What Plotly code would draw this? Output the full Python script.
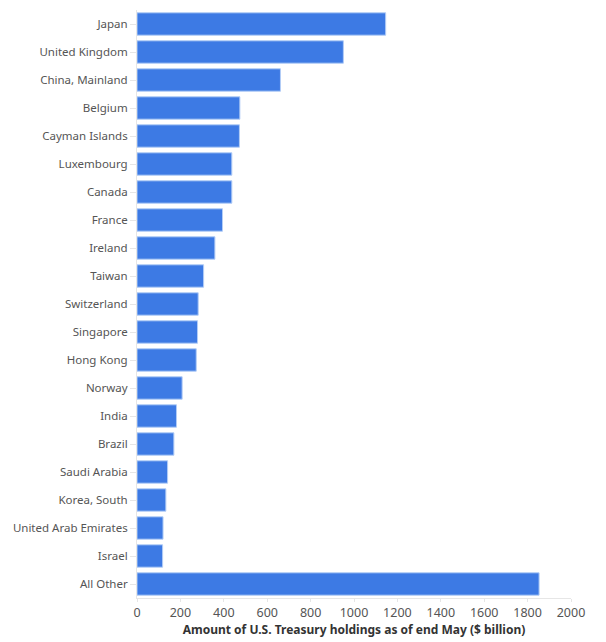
import plotly.graph_objects as go

countries = ["Japan", "United Kingdom", "China, Mainland", "Belgium", "Cayman Islands",
             "Luxembourg", "Canada", "France", "Ireland", "Taiwan", "Switzerland",
             "Singapore", "Hong Kong", "Norway", "India", "Brazil", "Saudi Arabia",
             "Korea, South", "United Arab Emirates", "Israel", "All Other"]
holdings = [1146, 951, 661, 474, 472, 437, 437, 394, 359, 307, 282,
            279, 273, 208, 182, 170, 141, 133, 120, 118, 1853]
x_ticks = list(range(0, 2001, 200))

fig = go.Figure(go.Bar(
    x=holdings,
    y=countries,
    orientation="h",
    marker=dict(color="#3d7ae4", line=dict(color="#b3cdf6", width=1)),
))

# page body adds an 8px offset, margins compensate for it
fig.update_layout(
    width=606, height=642,
    margin=dict(l=129, r=43, t=2, b=52, autoexpand=False),
    plot_bgcolor="white",
    paper_bgcolor="white",
    font=dict(family="Noto Sans", size=12, color="#555555"),
    bargap=0.2,
    showlegend=False,
)
fig.update_xaxes(
    range=[0, 2000], tickvals=x_ticks, showgrid=False, zeroline=False,
    showline=True, linecolor="#e6e6e6", ticks="outside", ticklen=3, tickcolor="#e6e6e6",
    tickfont=dict(size=12.5, color="#555555"),
    title=dict(text="<b>Amount of U.S. Treasury holdings as of end May ($ billion)</b>",
               font=dict(size=12, color="#333333"), standoff=5),
)
fig.update_yaxes(
    autorange="reversed", showgrid=False, showline=True, linecolor="#e6e6e6",
    ticks="outside", ticklen=6, tickcolor="#e6e6e6",
    tickfont=dict(size=11.5, color="#555555"),
)

fig.write_html("out.html")
